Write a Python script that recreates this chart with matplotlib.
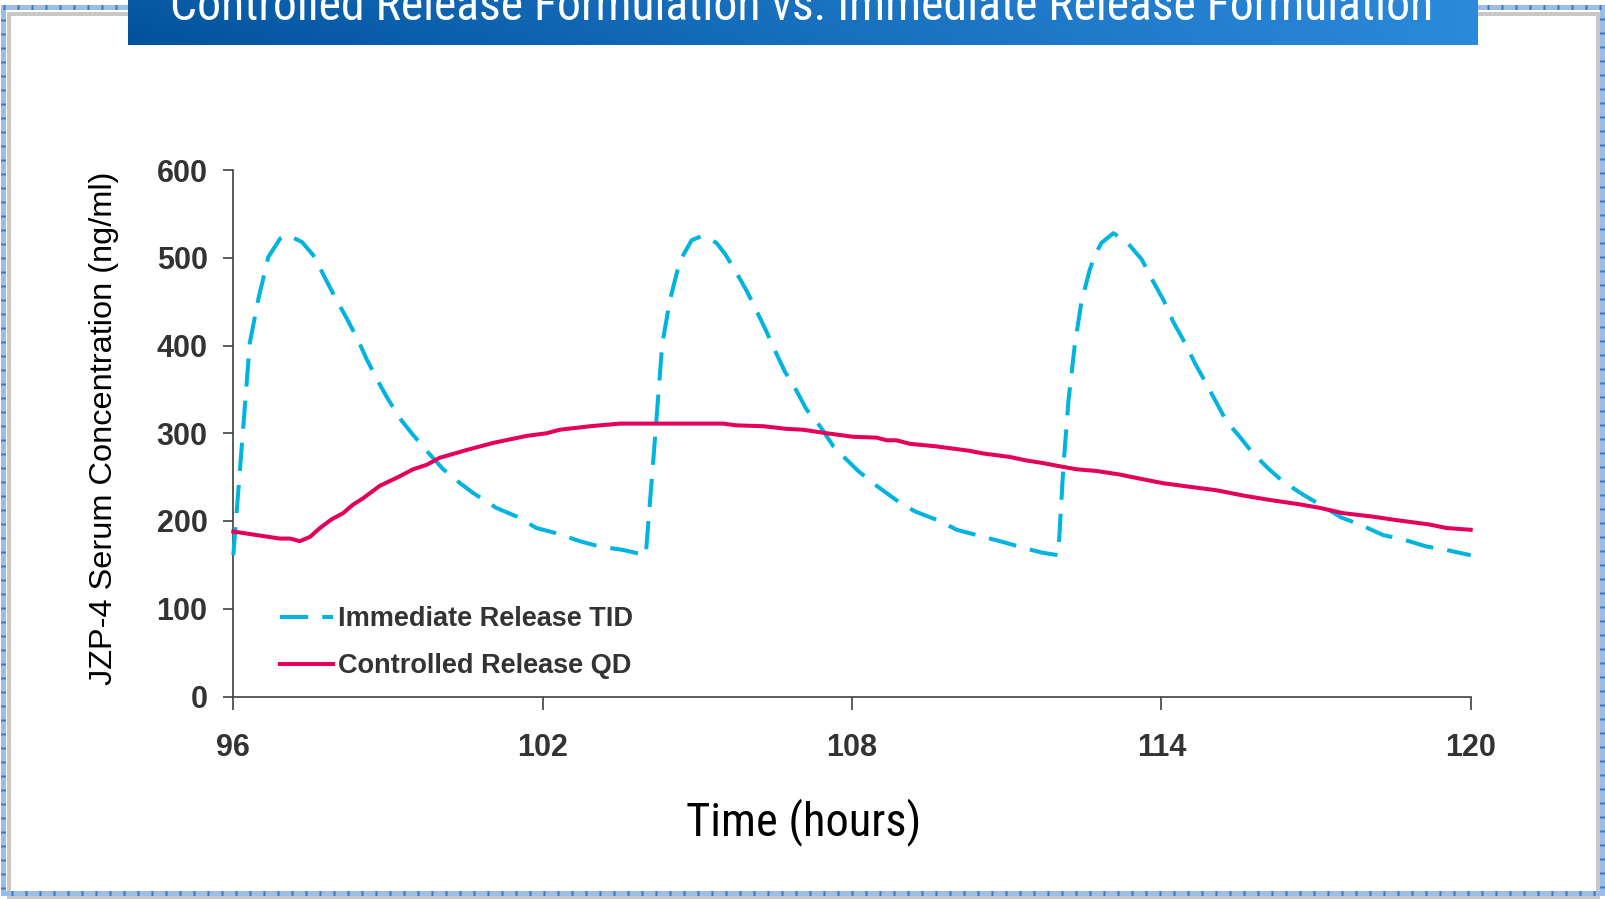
import matplotlib
matplotlib.use('Agg')
import matplotlib.pyplot as plt
import numpy as np
from matplotlib import font_manager
from matplotlib.font_manager import FontProperties
from matplotlib.lines import Line2D
from matplotlib.transforms import IdentityTransform

# ---------------- data ----------------
ir_time = [96.0, 96.32, 96.49, 96.68, 96.91, 97.05, 97.33, 97.55, 97.78, 98.0, 98.2,
           98.42, 98.59, 98.81, 98.97, 99.23, 99.46, 99.78, 100.07, 100.4, 100.65,
           101.1, 101.5, 101.88, 102.27, 102.72, 103.1, 103.56, 104.0,
           104.16, 104.32, 104.47, 104.66, 104.89, 105.1, 105.37, 105.53, 105.73,
           105.96, 106.12, 106.34, 106.5, 106.7, 106.89, 107.12, 107.38, 107.64,
           107.86, 108.12, 108.48, 108.9, 109.22, 109.7, 110.03, 110.48, 110.87,
           111.35, 111.68, 112.0,
           112.1, 112.2, 112.32, 112.45, 112.61, 112.71, 112.84, 113.07, 113.33,
           113.62, 113.84, 114.04, 114.23, 114.42, 114.65, 114.81, 115.04, 115.26,
           115.52, 115.75, 116.07, 116.36, 116.75, 117.07, 117.49, 117.85, 118.3,
           118.69, 119.14, 119.53, 120.0]
ir_conc = [161, 403, 454, 501, 522, 526, 518, 503, 477, 452, 431,
           406, 384, 359, 342, 317, 300, 278, 259, 243, 232,
           215, 205, 192, 186, 177, 171, 167, 161,
           280, 402, 452, 496, 520, 525, 517, 505, 486,
           462, 443, 416, 395, 370, 352, 327, 308, 285,
           272, 257, 240, 222, 211, 200, 190, 183, 177,
           169, 164, 161,
           262, 338, 400, 450, 486, 503, 517, 528, 518,
           498, 473, 452, 427, 407, 380, 363, 338, 314,
           296, 279, 260, 245, 230, 219, 204, 196, 184,
           179, 171, 167, 161]

cr_time = [96.0, 96.45, 96.9, 97.1, 97.29, 97.49, 97.68, 97.91, 98.13, 98.33, 98.52,
           98.84, 99.23, 99.49, 99.75, 100.0, 100.53, 101.04, 101.69, 102.08, 102.33,
           102.92, 103.5, 104.08, 105.5, 105.76, 106.28, 106.73, 107.05, 107.51,
           108.02, 108.48, 108.67, 108.86, 109.12, 109.64, 110.28, 110.54, 111.06,
           111.38, 111.71, 111.97, 112.35, 112.74, 113.19, 113.52, 114.04, 114.55,
           115.07, 115.59, 116.1, 116.68, 117.07, 117.52, 118.1, 118.56, 119.2,
           119.53, 120.0]
cr_conc = [188, 184, 180, 180, 177, 182, 192, 202, 209, 219, 226,
           240, 251, 259, 264, 272, 281, 289, 297, 300, 304,
           308, 311, 311, 311, 309, 308, 305, 304, 300,
           296, 295, 292, 292, 288, 285, 280, 277, 273,
           269, 266, 263, 259, 257, 253, 249, 243, 239,
           235, 229, 224, 219, 215, 209, 205, 201, 196,
           192, 190]

x_ticks = [96, 102, 108, 114, 120]
y_ticks = [0, 100, 200, 300, 400, 500, 600]
series_labels = ["Immediate Release TID", "Controlled Release QD"]
title = "Controlled Release Formulation vs. Immediate Release Formulation"
x_label = "Time (hours)"
y_label = "JZP-4 Serum Concentration (ng/ml)"

# ---------------- fonts ----------------
sans = 'Liberation Sans'


def find_narrow():
    prefs = ['liberation sans narrow', 'arial narrow', 'roboto condensed',
             'open sans condensed', 'noto sans condensed', 'dejavu sans condensed',
             'dejavusanscondensed', 'condensed', 'narrow']
    best = None
    for f in font_manager.fontManager.ttflist:
        nm = f.name.lower()
        fn = f.fname.lower()
        st = str(f.stretch).lower()
        key = nm + ' ' + fn.split('/')[-1] + ' ' + st
        if f.style != 'normal' or 'italic' in fn or 'oblique' in fn:
            continue
        if 'bold' in fn or 'light' in fn or 'thin' in fn or 'black' in fn:
            continue
        if not ('narrow' in key or 'condensed' in key):
            continue
        rank = len(prefs)
        for i, p in enumerate(prefs):
            if p in key:
                rank = i
                break
        if best is None or rank < best[0]:
            best = (rank, f.fname)
    return best[1] if best else None


narrow_path = find_narrow()


def narrow_props(size):
    if narrow_path:
        return FontProperties(fname=narrow_path, size=size)
    return FontProperties(family=sans, size=size)


# ---------------- figure ----------------
W, H = 1606, 899
fig = plt.figure(figsize=(W / 100, H / 100), dpi=100)
fig.patch.set_facecolor('white')


def frame(x0, y0, x1, y1, color, lw_px, dashes=None, z=1):
    xs = [x0, x1, x1, x0, x0]
    ys = [H - y0, H - y0, H - y1, H - y1, H - y0]
    ln = Line2D(xs, ys, transform=IdentityTransform(), color=color,
                lw=lw_px * 0.72, zorder=z, solid_joinstyle='miter')
    if dashes is not None:
        ln.set_dashes(dashes)
    fig.add_artist(ln)


frame(8.5, 13.5, 1597.5, 897, '#c8c8c8', 4, z=1)
frame(3, 6.5, 1602, 892.5, '#9cbde6', 5, z=2)
frame(3, 6.5, 1602, 892.5, '#3f78c0', 5, dashes=(0.4, 2.4), z=3)

# title bar with gradient
bar_ax = fig.add_axes([128 / W, 1 - 45 / H, (1478 - 128) / W, 45 / H], zorder=5)
bar_ax.axis('off')
left_c = np.array([0.00, 0.32, 0.61])
right_c = np.array([0.17, 0.54, 0.86])
t = np.linspace(0, 1, 256)[None, :, None]
v = np.linspace(0, 1, 16)[:, None, None]
grad = left_c + (right_c - left_c) * t
grad = grad + 0.03 * (1 - v) * (1 - t)
grad = np.clip(grad, 0, 1)
bar_ax.imshow(grad, aspect='auto', extent=[0, 1, 0, 1], interpolation='bilinear')
bar_ax.set_xlim(0, 1)
bar_ax.set_ylim(0, 1)

title_txt = fig.text(801.5 / W, 1 - 20 / H, title, color='white', ha='center',
                     va='baseline', fontproperties=narrow_props(35), zorder=10)
xlab_txt = fig.text(804 / W, 1 - 822 / H, x_label, ha='center', va='center',
                    fontproperties=narrow_props(34), color='black')
fig.canvas.draw()
for txt, target in [(title_txt, 1265.0), (xlab_txt, 236.0)]:
    bb = txt.get_window_extent()
    txt.set_fontsize(txt.get_fontsize() * target / bb.width)

# main axes
ax = fig.add_axes([233.3 / W, 1 - 696.5 / H, (1470.7 - 233.3) / W, (696.5 - 170) / H])
ax.plot(ir_time, ir_conc, color='#00b4e0', lw=2.9, linestyle=(0, (7, 3.5)),
        dash_capstyle='butt', label=series_labels[0], clip_on=False, zorder=3)
ax.plot(cr_time, cr_conc, color='#e4005b', lw=2.9, label=series_labels[1],
        clip_on=False, zorder=4)

ax.set_xlim(96, 120)
ax.set_ylim(0, 600)
ax.set_xticks(x_ticks)
ax.set_yticks(y_ticks)
for s in ['top', 'right']:
    ax.spines[s].set_visible(False)
for s in ['left', 'bottom']:
    ax.spines[s].set_color('#404040')
    ax.spines[s].set_linewidth(1.2)
ax.tick_params(axis='y', direction='out', length=7.5, width=1.2, color='#404040',
               pad=11, labelsize=22, labelcolor='#333333')
ax.tick_params(axis='x', direction='out', length=9, width=1.2, color='#404040',
               pad=17, labelsize=22, labelcolor='#333333')
for lab in ax.get_xticklabels() + ax.get_yticklabels():
    lab.set_fontweight('bold')
    lab.set_family(sans)

leg = ax.legend(loc='upper left', bbox_to_anchor=(280 / W, 1 - 606 / H),
                bbox_transform=fig.transFigure, frameon=False,
                prop={'family': sans, 'weight': 'bold', 'size': 19.5},
                handlelength=1.95, handletextpad=0.2, labelspacing=0.78,
                borderpad=0, borderaxespad=0)
for txt in leg.get_texts():
    txt.set_color('#333333')

fig.text(104.5 / W, 1 - 428 / H, y_label, ha='center', va='center', rotation=90,
         fontsize=23.4, family=sans, color='black')

fig.savefig('out.png', dpi=100, facecolor='white')
